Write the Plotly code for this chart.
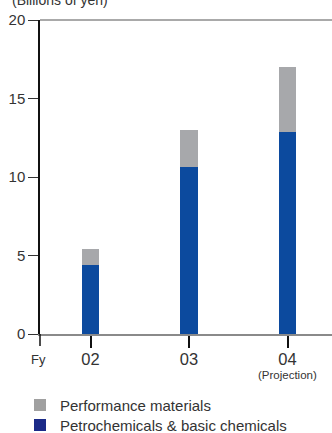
import plotly.graph_objects as go

# Fiscal years and segment values (billions of yen)
years = ["02", "03", "04"]
year_pos = [1, 2, 3]
petrochemicals = [4.4, 10.65, 12.85]
performance = [1.0, 2.35, 4.15]
y_ticks = [0, 5, 10, 15, 20]

blue_bar = "#0c4a9e"
gray_bar = "#a7a8ab"
blue_key = "#1b2a88"
gray_key = "#a0a0a0"
text_col = "#333333"
font_family = "Liberation Sans, Arial, sans-serif"

PLOT_H = 314.5  # plot area height in px
PLOT_W = 292.0  # plot area width in px

fig = go.Figure()

fig.add_trace(go.Bar(
    x=year_pos, y=petrochemicals, width=0.173,
    marker=dict(color=blue_bar, line=dict(width=0)),
    showlegend=False, hoverinfo="skip",
))
fig.add_trace(go.Bar(
    x=year_pos, y=performance, width=0.173,
    marker=dict(color=gray_bar, line=dict(width=0)),
    showlegend=False, hoverinfo="skip",
))

# Legend keys, one legend box each so the rows can be spaced freely
fig.add_trace(go.Bar(
    x=[None], y=[None], name="Performance materials",
    marker=dict(color=gray_key, line=dict(width=0)), legend="legend",
))
fig.add_trace(go.Bar(
    x=[None], y=[None], name="Petrochemicals & basic chemicals",
    marker=dict(color=blue_key, line=dict(width=0)), legend="legend2",
))

legend_common = dict(
    xanchor="left", yanchor="middle",
    font=dict(size=15, color=text_col),
    bgcolor="rgba(0,0,0,0)", borderwidth=0,
)

fig.update_layout(
    width=332, height=433,
    margin=dict(l=40, r=0, t=20, b=98.5, autoexpand=False),
    barmode="stack",
    plot_bgcolor="white", paper_bgcolor="white",
    font=dict(family=font_family, color=text_col),
    showlegend=True,
    legend=dict(x=-20 / PLOT_W, y=-(405.8 - 334.5) / PLOT_H, **legend_common),
    legend2=dict(x=-20 / PLOT_W, y=-(426.0 - 334.5) / PLOT_H, **legend_common),
    xaxis=dict(
        range=[0.4873, 3.4518],
        tickvals=year_pos, ticktext=years,
        ticks="outside", ticklen=12, tickwidth=1.5, tickcolor="#111111",
        tickfont=dict(size=16.5, color=text_col),
        ticklabelstandoff=-3,
        showline=True, linecolor="#8a8a8a", linewidth=2,
        showgrid=False, zeroline=False, fixedrange=True,
    ),
    yaxis=dict(
        range=[0, 20],
        tickvals=y_ticks,
        ticks="outside", ticklen=10, tickwidth=1, tickcolor="#333333",
        tickfont=dict(size=15, color=text_col),
        showline=True, linecolor="#111111", linewidth=1.5,
        showgrid=False, zeroline=False, fixedrange=True,
    ),
    shapes=[
        # top border line at 20
        dict(type="line", xref="paper", yref="paper", x0=0, x1=1, y0=1, y1=1,
             line=dict(color="#555555", width=1)),
        # vertical axis continues below zero
        dict(type="line", xref="paper", yref="paper", x0=0, x1=0, y0=0, y1=-12 / PLOT_H,
             line=dict(color="#111111", width=1.5)),
    ],
    annotations=[
        dict(text="(Billions of yen)", xref="paper", yref="paper",
             x=-30 / PLOT_W, y=1 + 20 / PLOT_H, xanchor="left", yanchor="middle",
             showarrow=False, font=dict(size=14, color=text_col)),
        dict(text="Fy", xref="paper", yref="paper",
             x=-1.5 / PLOT_W, y=-26 / PLOT_H, xanchor="center", yanchor="middle",
             showarrow=False, font=dict(size=13, color=text_col)),
        dict(text="(Projection)", xref="x", yref="paper",
             x=3, y=-41 / PLOT_H, xanchor="center", yanchor="middle",
             showarrow=False, font=dict(size=11.5, color=text_col)),
    ],
)

fig.write_html("out.html")
